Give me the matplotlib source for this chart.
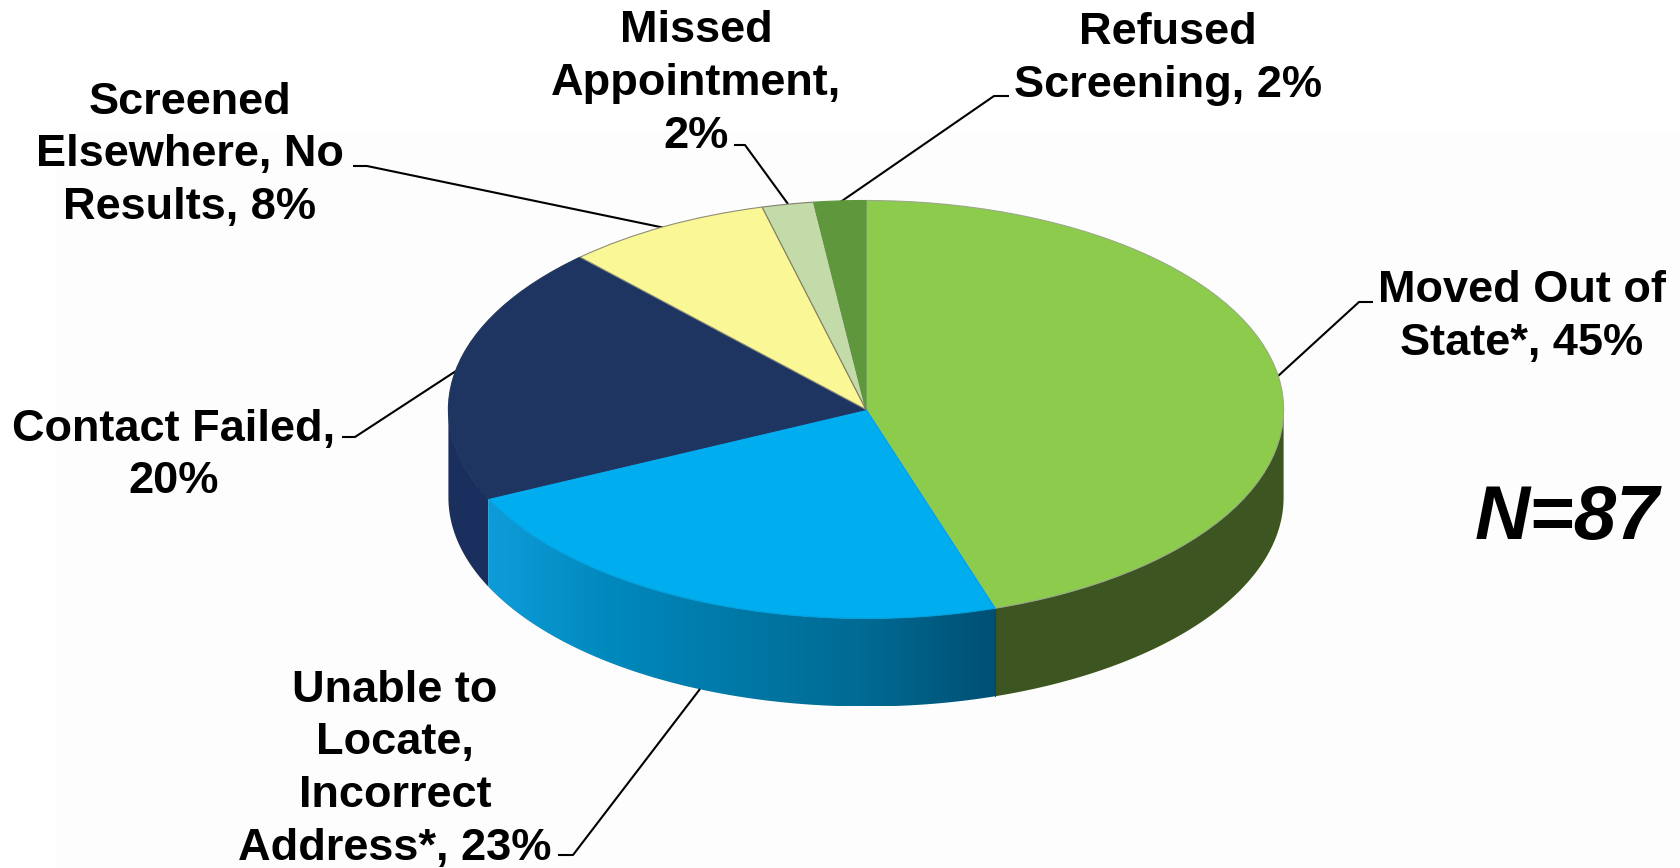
import numpy as np
import matplotlib
matplotlib.use("Agg")
import matplotlib.pyplot as plt
from matplotlib.colors import LinearSegmentedColormap
from matplotlib.patches import Polygon, Rectangle

plt.rcParams['font.family'] = ['Liberation Sans', 'DejaVu Sans']

W, H = 1681, 868

# clockwise from 12 o'clock
names = ["Moved Out of\nState*, 45%", "Unable to\nLocate,\nIncorrect\nAddress*, 23%",
         "Contact Failed,\n20%", "Screened\nElsewhere, No\nResults, 8%",
         "Missed\nAppointment,\n2%", "Refused\nScreening, 2%"]
values = [45, 23, 20, 8, 2, 2]
top_colors = ["#8DCB4D", "#00ADEF", "#1E3461", "#FAF796", "#C3DBA9", "#5E973C"]
side_colors = ["#3D5520", None, "#1B2F5E", None, None, None]
edge_colors = ["#9AA88A", "#00A0DC", "#1E3461", "#8F8F70", "#80806A", "#5E973C"]
blue_side = ["#0E9CD9", "#0088BC", "#0078A6", "#006A92", "#004F74"]

# pie geometry, pixels
cx, cy, rx, ry, depth = 866, 409.5, 417.6, 209, 88

# label centre (x, y of first line) in pixels
label_xy = [(1522, 291), (395, 690), (174, 429), (190, 102), (696, 31), (1168, 33)]
leaders = [
    [(1277, 377), (1359, 302), (1373, 302)],
    [(700, 689), (573, 855), (558, 855)],
    [(456, 371), (355, 437), (342, 437)],
    [(665, 228), (367, 166), (353, 166)],
    [(788, 204), (745, 145), (734, 145)],
    [(839, 203), (994, 96), (1009, 96)],
]


def rim(t):
    return cx + rx * np.sin(t), cy - ry * np.cos(t)


def side_poly(a, b):
    t = np.radians(np.linspace(a, b, 120))
    x, y = rim(t)
    return np.r_[np.c_[x, y], np.c_[x, y + depth][::-1]]


fig = plt.figure(figsize=(W / 100, H / 100), dpi=100, facecolor="white")
ax = fig.add_axes([0, 0, 1, 1])
ax.axis("off")

ax.add_patch(Rectangle((55, 130), W - 55, H - 130, fc="#FDFDFD", ec="none", zorder=0))

edges = np.r_[0, np.cumsum(values)] / np.sum(values) * 360

# side walls, only what faces the viewer
ax.add_patch(Polygon(side_poly(edges[0] + 90, edges[1]), fc=side_colors[0], ec="none", zorder=2))
ax.add_patch(Polygon(side_poly(edges[2], 270), fc=side_colors[2], ec="none", zorder=2))
blue = Polygon(side_poly(edges[1], edges[2]), fc="none", ec="none", zorder=2)
ax.add_patch(blue)
x_r = rim(np.radians(edges[1]))[0]
x_l = rim(np.radians(edges[2]))[0]
cmap = LinearSegmentedColormap.from_list("blue_side", blue_side)
im = ax.imshow(np.linspace(0, 1, 256)[None, :], cmap=cmap, aspect="auto",
               extent=(x_l, x_r, cy + ry + depth, cy), zorder=2)
im.set_clip_path(blue)
ax.plot([x_r, x_r], [rim(np.radians(edges[1]))[1], rim(np.radians(edges[1]))[1] + depth],
        color="#2E4218", lw=0.8, zorder=3)

ax.set_xlim(0, W)
ax.set_ylim(H, 0)

for pts in leaders:
    xs, ys = zip(*pts)
    ax.plot(xs, ys, color="black", lw=1.5, solid_capstyle="butt", zorder=5)

for name, (x, y) in zip(names, label_xy):
    for i, line in enumerate(name.split("\n")):
        ax.text(x, y + i * 52.8, line, fontsize=32.5, fontweight="bold", ha="center",
                va="center", color="black", zorder=6)

ax.text(1567, 520, "N=87", fontsize=55, fontweight="bold", fontstyle="italic",
        ha="center", va="center", color="black", zorder=6)

# top face: a plain pie squashed by its axes box
pax = fig.add_axes([(cx - rx) / W, 1 - (cy + ry) / H, 2 * rx / W, 2 * ry / H], zorder=3)
wedges, _ = pax.pie(values, colors=top_colors, startangle=90, counterclock=False, radius=1,
                    wedgeprops=dict(linewidth=0.8))
for w, c in zip(wedges, edge_colors):
    w.set_edgecolor(c)
    w.set_clip_on(False)
pax.set_aspect("auto")
pax.set_xlim(-1, 1)
pax.set_ylim(-1, 1)
pax.patch.set_alpha(0)

fig.savefig("out.png", dpi=100)
